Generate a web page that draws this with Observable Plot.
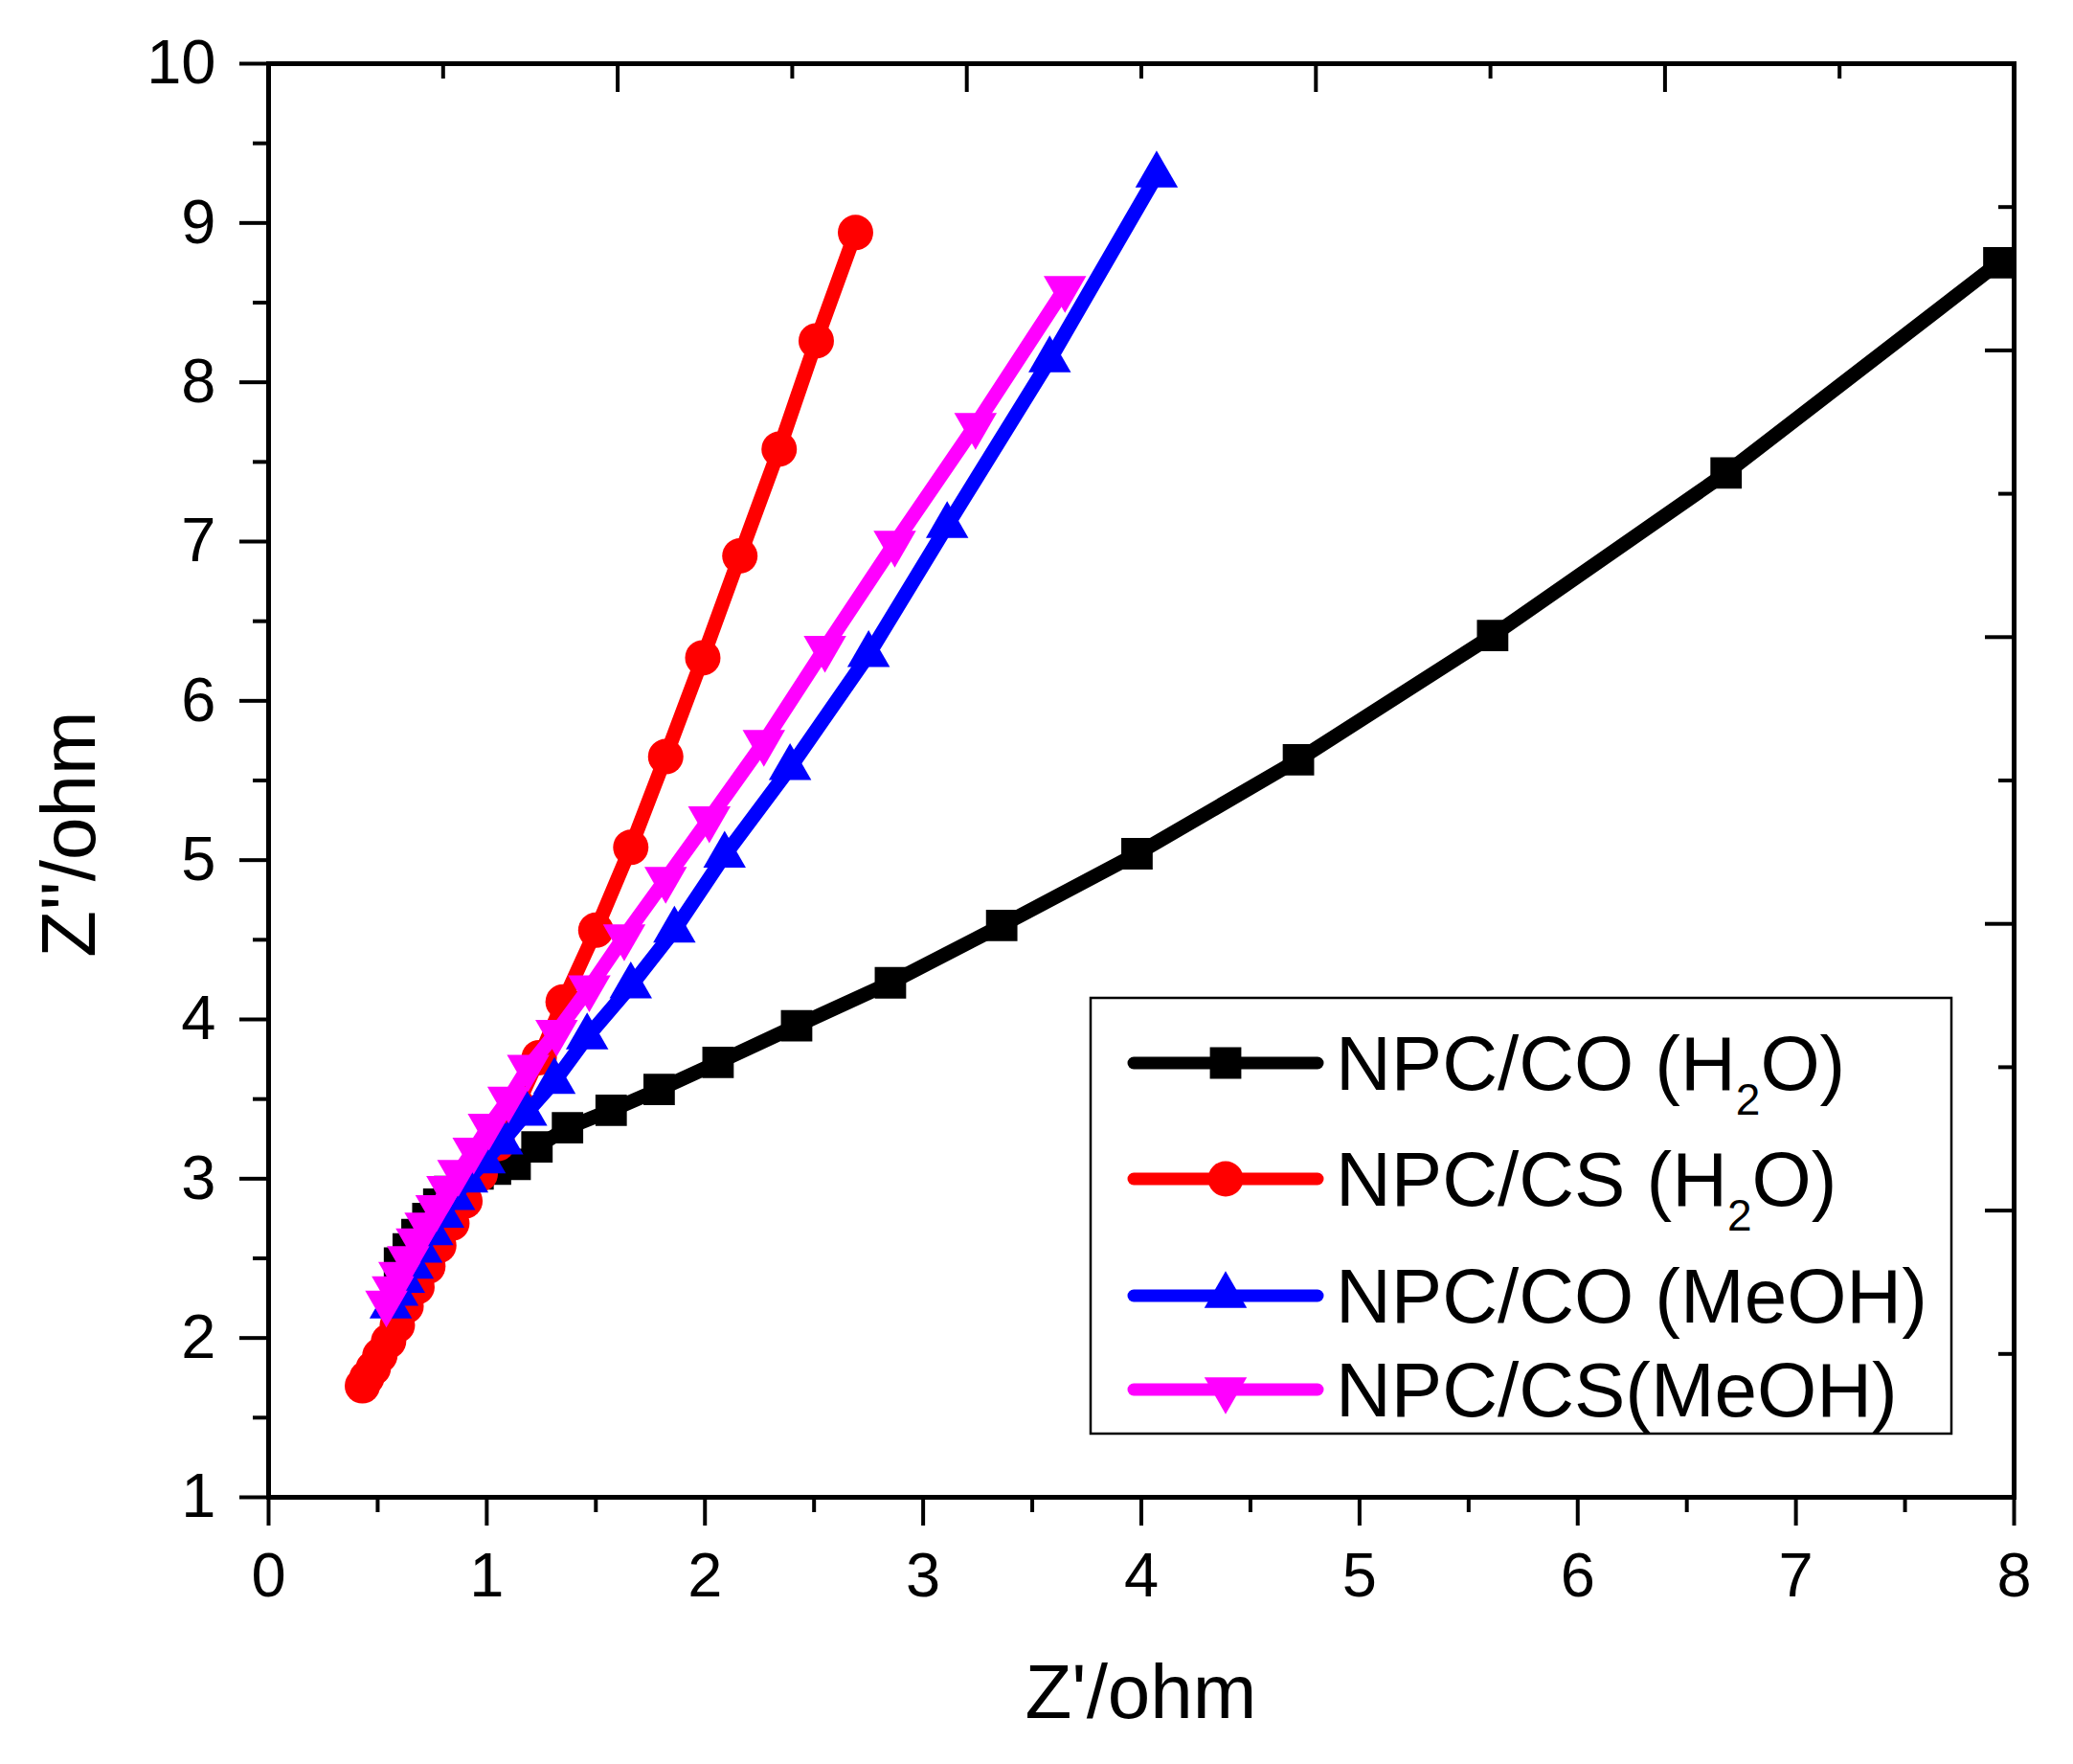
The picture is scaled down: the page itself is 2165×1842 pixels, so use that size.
<!DOCTYPE html>
<html>
<head>
<meta charset="utf-8">
<script src="https://cdn.jsdelivr.net/npm/d3@7"></script>
<script src="https://cdn.jsdelivr.net/npm/@observablehq/plot@0.6"></script>
<style>
  html, body { margin: 0; padding: 0; background: #ffffff; }
  #chart { width: 2165px; height: 1842px; }
</style>
</head>
<body>
<div id="chart"></div>
<script>
// ---------------- data ----------------
const seriesNames = ["NPC/CO (H2O)", "NPC/CS (H2O)", "NPC/CO (MeOH)", "NPC/CS(MeOH)"];
const seriesColors = ["#000000", "#ff0000", "#0000ff", "#ff00ff"];

const coH2oX = [0.60, 0.64, 0.68, 0.73, 0.78, 0.83, 0.89, 0.96, 1.04, 1.13, 1.23, 1.37, 1.57, 1.79, 2.06, 2.42, 2.85, 3.36, 3.98, 4.72, 5.61, 6.68, 7.93];
const coH2oY = [2.47, 2.56, 2.65, 2.75, 2.84, 2.92, 2.98, 3.03, 3.06, 3.09, 3.20, 3.32, 3.43, 3.56, 3.73, 3.96, 4.23, 4.59, 5.04, 5.63, 6.41, 7.43, 8.75];

const csH2oX = [0.43, 0.45, 0.48, 0.51, 0.55, 0.59, 0.63, 0.68, 0.73, 0.78, 0.84, 0.90, 0.97, 1.05, 1.14, 1.24, 1.35, 1.50, 1.66, 1.82, 1.99, 2.16, 2.34, 2.51, 2.69];
const csH2oY = [1.70, 1.75, 1.81, 1.89, 1.98, 2.08, 2.20, 2.32, 2.45, 2.58, 2.72, 2.86, 3.03, 3.22, 3.46, 3.76, 4.11, 4.56, 5.08, 5.65, 6.27, 6.91, 7.58, 8.26, 8.94];

const coMeohX = [0.56, 0.59, 0.62, 0.66, 0.70, 0.75, 0.80, 0.85, 0.91, 0.99, 1.07, 1.18, 1.31, 1.46, 1.66, 1.86, 2.09, 2.39, 2.75, 3.11, 3.58, 4.07];
const coMeohY = [2.20, 2.28, 2.36, 2.45, 2.55, 2.66, 2.77, 2.88, 2.99, 3.11, 3.23, 3.41, 3.61, 3.89, 4.21, 4.56, 5.03, 5.58, 6.29, 7.10, 8.14, 9.30];

const csMeohX = [0.54, 0.57, 0.60, 0.64, 0.68, 0.72, 0.77, 0.82, 0.87, 0.94, 1.01, 1.10, 1.19, 1.32, 1.47, 1.63, 1.82, 2.02, 2.27, 2.55, 2.87, 3.24, 3.65];
const csMeohY = [2.22, 2.31, 2.40, 2.50, 2.61, 2.71, 2.82, 2.94, 3.04, 3.18, 3.33, 3.50, 3.70, 3.92, 4.20, 4.52, 4.88, 5.26, 5.74, 6.33, 6.99, 7.73, 8.59];

// axis ticks
const xMajor = [0, 1, 2, 3, 4, 5, 6, 7, 8];
const xMinor = [0.5, 1.5, 2.5, 3.5, 4.5, 5.5, 6.5, 7.5];
const yMajor = [1, 2, 3, 4, 5, 6, 7, 8, 9, 10];
const yMinor = [1.5, 2.5, 3.5, 4.5, 5.5, 6.5, 7.5, 8.5, 9.5];
// top and right axes run on their own 0–10 scale across the frame
const sideAxisMax = 10;
const sideMajor = [2, 4, 6, 8];
const sideMinor = [1, 3, 5, 7, 9];

const xLabel = "Z'/ohm";
const yLabel = "Z''/ohm";

// ---------------- layout ----------------
const W = 2165, H = 1842;
const mL = 280, mR = 62, mT = 66, mB = 279;
const plotW = W - mL - mR, plotH = H - mT - mB;
const xDomain = [0, 8], yDomain = [1, 10];
const FONT = "'Liberation Sans', Arial, Helvetica, sans-serif";

const toRows = (xs, ys) => xs.map((x, i) => ({x, y: ys[i]}));
const data = [
  toRows(coH2oX, coH2oY),
  toRows(csH2oX, csH2oY),
  toRows(coMeohX, coMeohY),
  toRows(csMeohX, csMeohY)
];

const triangleDown = {
  draw(context, size) {
    const s3 = Math.sqrt(3);
    const y = -Math.sqrt(size / (s3 * 3));
    context.moveTo(0, -y * 2);
    context.lineTo(-s3 * y, y);
    context.lineTo(s3 * y, y);
    context.closePath();
  }
};
const symbols = ["square", "circle", "triangle", triangleDown];
const radii = [18.5, 18.5, 16.5, 16.5];
const d3Symbols = [d3.symbolSquare, d3.symbolCircle, d3.symbolTriangle, triangleDown];

const topX = t => t * (xDomain[1] / sideAxisMax);
const rightY = r => yDomain[0] + r * ((yDomain[1] - yDomain[0]) / sideAxisMax);
const intFmt = d3.format("d");

const seriesMarks = data.flatMap((rows, i) => [
  Plot.line(rows, {x: "x", y: "y", stroke: seriesColors[i], strokeWidth: 15, strokeLinejoin: "round", strokeLinecap: "round"}),
  Plot.dot(rows, {x: "x", y: "y", symbol: symbols[i], r: radii[i], fill: seriesColors[i], stroke: "none"})
]);

const chart = Plot.plot({
  width: W,
  height: H,
  marginLeft: mL, marginRight: mR, marginTop: mT, marginBottom: mB,
  style: {fontFamily: FONT, background: "#ffffff", color: "#000000", overflow: "visible"},
  x: {domain: xDomain},
  y: {domain: yDomain},
  marks: [
    ...seriesMarks,
    // bottom axis
    Plot.axisX(xMajor, {anchor: "bottom", tickSize: 30, tickPadding: 27, fontSize: 65, strokeWidth: 4, tickFormat: intFmt, label: null}),
    Plot.axisX(xMinor, {anchor: "bottom", tickSize: 16, strokeWidth: 4, tickFormat: () => "", label: null}),
    // left axis
    Plot.axisY(yMajor, {anchor: "left", tickSize: 30, tickPadding: 25, fontSize: 65, strokeWidth: 4, tickFormat: intFmt, label: null}),
    Plot.axisY(yMinor, {anchor: "left", tickSize: 16, strokeWidth: 4, tickFormat: () => "", label: null}),
    // top axis (inward ticks)
    Plot.tickX(sideMajor, {x: topX, stroke: "#000", strokeWidth: 4, insetBottom: plotH - 30}),
    Plot.tickX(sideMinor, {x: topX, stroke: "#000", strokeWidth: 4, insetBottom: plotH - 16}),
    // right axis (inward ticks)
    Plot.tickY(sideMajor, {y: rightY, stroke: "#000", strokeWidth: 4, insetLeft: plotW - 30}),
    Plot.tickY(sideMinor, {y: rightY, stroke: "#000", strokeWidth: 4, insetLeft: plotW - 16}),
    Plot.frame({stroke: "#000", strokeWidth: 5})
  ]
});

document.getElementById("chart").appendChild(chart);

// ---------------- axis titles ----------------
const svg = d3.select(chart);
svg.append("text")
  .attr("x", mL + plotW / 2).attr("y", 1794)
  .attr("text-anchor", "middle")
  .attr("font-family", FONT).attr("font-size", 80).attr("fill", "#000")
  .text(xLabel);
svg.append("text")
  .attr("transform", "translate(99,871) rotate(-90)")
  .attr("text-anchor", "middle")
  .attr("font-family", FONT).attr("font-size", 80).attr("fill", "#000")
  .text(yLabel);

// ---------------- legend ----------------
const legend = svg.append("g").attr("font-family", FONT).attr("text-anchor", "start");
legend.append("rect")
  .attr("x", 1139).attr("y", 1042).attr("width", 899).attr("height", 455)
  .attr("fill", "#ffffff").attr("stroke", "#000").attr("stroke-width", 2.5);
const rowY = [1110, 1231, 1353, 1451];
seriesNames.forEach((name, i) => {
  const g = legend.append("g");
  g.append("line")
    .attr("x1", 1184).attr("x2", 1376).attr("y1", rowY[i]).attr("y2", rowY[i])
    .attr("stroke", seriesColors[i]).attr("stroke-width", 13).attr("stroke-linecap", "round");
  g.append("path")
    .attr("transform", `translate(1280,${rowY[i]})`)
    .attr("d", d3.symbol(d3Symbols[i], Math.PI * radii[i] * radii[i])())
    .attr("fill", seriesColors[i]);
  const t = g.append("text")
    .attr("x", 1395).attr("y", rowY[i] + 28)
    .attr("text-anchor", "start")
    .attr("font-size", 80).attr("fill", "#000");
  const m = name.match(/^(.*H)2(O\).*)$/);
  if (m) {
    t.append("tspan").text(m[1]);
    t.append("tspan").attr("font-size", 46).attr("dy", 26).text("2");
    t.append("tspan").attr("dy", -26).text(m[2]);
  } else {
    t.text(name);
  }
});
</script>
</body>
</html>
